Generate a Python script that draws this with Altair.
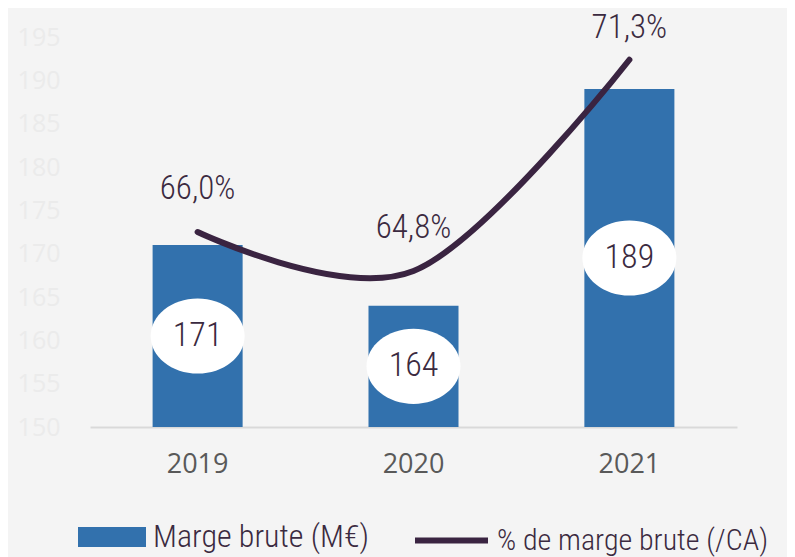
import altair as alt
import pandas as pd

years = ["2019", "2020", "2021"]
marge = [171, 164, 189]
pct = [66.0, 64.8, 71.3]
pct_labels = ["66,0%", "64,8%", "71,3%"]
y_ticks = [150, 155, 160, 165, 170, 175, 180, 185, 190, 195]
bar_series = "Marge brute (M€)"
line_series = "% de marge brute (/CA)"

df = pd.DataFrame({
    "year": years,
    "marge": marge,
    "pct": pct,
    "pct_label": pct_labels,
    "marge_label": [str(v) for v in marge],
    "sb": [bar_series] * 3,
    "sl": [line_series] * 3,
})

BLUE = "#3271ad"
PURPLE = "#3a2441"
TEXT = "#3b2a40"
COND = "Roboto Condensed, Roboto, sans-serif"

xscale = alt.Scale(domain=years, paddingInner=0.583, paddingOuter=0.29)
yscale = alt.Scale(domain=[150, 195], zero=False, nice=False)
pscale = alt.Scale(domain=[60, 72], zero=False, nice=False)

x_axis = alt.Axis(title=None, labelAngle=0, ticks=False, domainColor="#d9d9d9",
                  domainWidth=2, labelColor="#595959", labelFont="Open Sans",
                  labelFontSize=27, labelPadding=24, grid=False)
X = alt.X("year:N", scale=xscale, axis=x_axis)

base = alt.Chart(df)

bars = base.mark_bar().encode(
    x=X,
    y=alt.Y("marge:Q", scale=yscale,
            axis=alt.Axis(title=None, values=y_ticks, grid=False, ticks=False,
                          domain=False, labelColor="#ebebeb", labelFont="Open Sans",
                          labelFontSize=25, labelPadding=30)),
    y2=alt.datum(150),
    fill=alt.Fill("sb:N", scale=alt.Scale(domain=[bar_series], range=[BLUE]),
                  legend=alt.Legend(orient="none", legendX=-12, legendY=466, title=None,
                                    symbolType="M-1,-0.294L1,-0.294L1,0.294L-1,0.294Z",
                                    symbolSize=4624, symbolStrokeWidth=0,
                                    labelFont=COND, labelFontSize=32, labelFontWeight=300,
                                    labelColor=TEXT,
                                    labelOffset=7, padding=0, labelLimit=400)),
)

ellipse_path = "M -1 0 A 1 0.8 0 1 0 1 0 A 1 0.8 0 1 0 -1 0 Z"
mid = base.transform_calculate(mid="(150 + datum.marge) / 2")

ellipses = mid.mark_point(shape=ellipse_path, filled=True, fill="white",
                          opacity=1, size=8836, strokeWidth=0).encode(
    x=X,
    y=alt.Y("mid:Q", scale=yscale, axis=None),
)

bar_text = mid.mark_text(font=COND, fontSize=34, fontWeight=300, color=TEXT).encode(
    x=X,
    y=alt.Y("mid:Q", scale=yscale, axis=None),
    text="marge_label:N",
)

line = base.mark_line(interpolate="cardinal", strokeWidth=6, strokeCap="round").encode(
    x=X,
    y=alt.Y("pct:Q", scale=pscale, axis=None),
    stroke=alt.Stroke("sl:N", scale=alt.Scale(domain=[line_series], range=[PURPLE]),
                      legend=alt.Legend(orient="none", legendX=322, legendY=464, title=None,
                                        symbolType="stroke", symbolSize=5329,
                                        symbolStrokeWidth=6,
                                        labelFont=COND, labelFontSize=30, labelFontWeight=300,
                                        labelColor=TEXT,
                                        labelOffset=6, padding=0, labelLimit=400)),
)

pct_text_a = base.transform_filter(alt.datum.year != "2021").mark_text(
    font=COND, fontSize=33, fontWeight=300, color=TEXT, dy=-43).encode(
    x=X,
    y=alt.Y("pct:Q", scale=pscale, axis=None),
    text="pct_label:N",
)
pct_text_b = base.transform_filter(alt.datum.year == "2021").mark_text(
    font=COND, fontSize=33, fontWeight=300, color=TEXT, dy=-32).encode(
    x=X,
    y=alt.Y("pct:Q", scale=pscale, axis=None),
    text="pct_label:N",
)

chart = alt.layer(bars, ellipses, bar_text, line, pct_text_a, pct_text_b).resolve_scale(
    y="independent"
).properties(
    width=647, height=390,
    autosize=alt.AutoSizeParams(type="none"),
    padding={"left": 82, "top": 29, "right": 50, "bottom": 130},
).configure(background="#f4f4f4").configure_view(stroke=None)

chart.save("out.html", embed_options={"renderer": "svg", "actions": False})
